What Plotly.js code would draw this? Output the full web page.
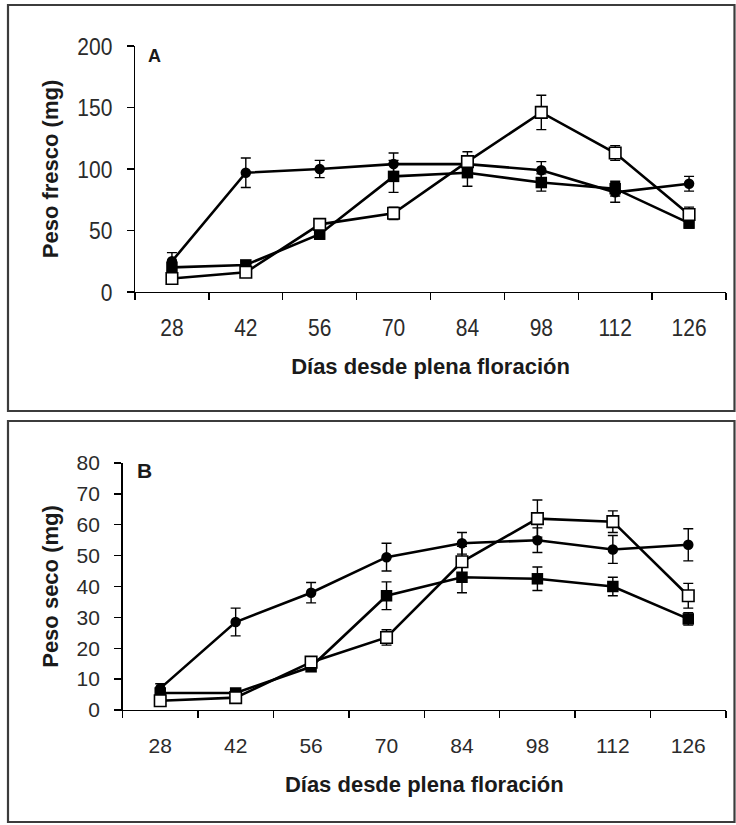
<!DOCTYPE html>
<html>
<head>
<meta charset="utf-8">
<script src="https://cdn.plot.ly/plotly-3.0.1.min.js"></script>
<style>
  html, body { margin: 0; padding: 0; background: #fff; }
  #chart { width: 736px; height: 825px; }
</style>
</head>
<body>
<div id="chart"></div>
<script>
// Days after full bloom (category axis)
const days = ['28', '42', '56', '70', '84', '98', '112', '126'];

// Panel A: fresh weight (mg), three series with standard errors
const freshCircle    = [25, 97, 100, 104, 104, 99, 81, 88];
const freshCircleErr = [7, 12, 7, 9, 5, 7, 8, 6];
const freshFilled    = [20, 22, 47, 94, 97, 89, 84, 56];
const freshFilledErr = [3, 3, 4, 13, 11, 7, 6, 4];
const freshOpen      = [11, 16, 55, 64, 106, 146, 113, 63];
const freshOpenErr   = [2, 2, 4, 5, 8, 14, 6, 6];

// Panel B: dry weight (mg)
const dryCircle    = [7, 28.5, 38, 49.5, 54, 55, 52, 53.5];
const dryCircleErr = [1.5, 4.5, 3.3, 4.5, 3.5, 4, 4.5, 5.2];
const dryFilled    = [5.5, 5.5, 14, 37, 43, 42.5, 40, 29.5];
const dryFilledErr = [1, 1, 1.5, 4.5, 5, 3.8, 3, 2];
const dryOpen      = [3, 4, 15.5, 23.5, 48, 62, 61, 37];
const dryOpenErr   = [0.7, 0.8, 1.5, 2.5, 5, 6, 3.5, 4];

const yTicksA = [0, 50, 100, 150, 200];
const yTicksB = [0, 10, 20, 30, 40, 50, 60, 70, 80];

const W = 736, H = 825;
const FONT = 'Liberation Sans, Arial, Helvetica, sans-serif';
const INK = '#000';

const px = v => v / W;
const py = v => 1 - v / H;

const markerStyles = {
  circle: { symbol: 'circle', size: 10.5, color: INK },
  filled: { symbol: 'square', size: 11.5, color: INK },
  open:   { symbol: 'square', size: 11.5, color: '#fff', line: { color: INK, width: 1.6 } }
};

function series(y, err, style, xa, ya) {
  return {
    type: 'scatter',
    mode: 'lines+markers',
    x: days,
    y: y,
    xaxis: xa,
    yaxis: ya,
    line: { color: INK, width: 2.6 },
    marker: markerStyles[style],
    error_y: { type: 'data', array: err, visible: true, color: INK, thickness: 1.4, width: 5 },
    hoverinfo: 'skip',
    showlegend: false
  };
}

const traces = [
  series(freshCircle, freshCircleErr, 'circle', 'x', 'y'),
  series(freshFilled, freshFilledErr, 'filled', 'x', 'y'),
  series(freshOpen, freshOpenErr, 'open', 'x', 'y'),
  series(dryCircle, dryCircleErr, 'circle', 'x2', 'y2'),
  series(dryFilled, dryFilledErr, 'filled', 'x2', 'y2'),
  series(dryOpen, dryOpenErr, 'open', 'x2', 'y2')
];

const tickFont = { family: FONT, size: 21, color: '#2b2b2b' };
const titleFont = { family: FONT, size: 22, color: '#1a1a1a', weight: 'bold' };

function xAxis(domain, anchor) {
  return {
    type: 'category',
    anchor: anchor,
    domain: domain,
    range: [-0.5, days.length - 0.5],
    tickson: 'boundaries',
    ticks: 'outside',
    ticklen: 7,
    tickwidth: 1.4,
    tickcolor: INK,
    showline: true,
    linecolor: INK,
    linewidth: 1.4,
    showgrid: false,
    zeroline: false,
    ticklabelstandoff: 16,
    tickfont: tickFont,
    title: { text: 'Días desde plena floración', font: titleFont, standoff: 21 },
    fixedrange: true
  };
}

function yAxis(domain, anchor, range, vals, titleText, standoff) {
  return {
    anchor: anchor,
    domain: domain,
    range: range,
    tickmode: 'array',
    tickvals: vals,
    ticktext: vals.map(String),
    ticks: 'outside',
    ticklen: 7,
    tickwidth: 1.4,
    tickcolor: INK,
    showline: true,
    linecolor: INK,
    linewidth: 1.4,
    showgrid: false,
    zeroline: false,
    ticklabelstandoff: 10,
    tickfont: tickFont,
    title: { text: titleText, font: titleFont, standoff: standoff },
    fixedrange: true
  };
}

const layout = {
  width: W,
  height: H,
  margin: { l: 0, r: 0, t: 0, b: 0, pad: 0 },
  paper_bgcolor: '#fff',
  plot_bgcolor: '#fff',
  font: { family: FONT, color: INK },
  xaxis:  xAxis([px(135), px(726)], 'y'),
  yaxis:  yAxis([py(292), py(46)], 'x', [0, 200], yTicksA, 'Peso fresco (mg)', 12),
  xaxis2: xAxis([px(122.5), px(726)], 'y2'),
  yaxis2: yAxis([py(710), py(463)], 'x2', [0, 80], yTicksB, 'Peso seco (mg)', 12),
  shapes: [
    { type: 'rect', xref: 'paper', yref: 'paper', x0: px(8), x1: px(734.5), y0: py(411), y1: py(5),
      line: { color: '#3c3c3c', width: 2.2 }, fillcolor: 'rgba(0,0,0,0)' },
    { type: 'rect', xref: 'paper', yref: 'paper', x0: px(8), x1: px(734.5), y0: py(822), y1: py(421),
      line: { color: '#3c3c3c', width: 2.2 }, fillcolor: 'rgba(0,0,0,0)' }
  ],
  annotations: [
    { text: '<b>A</b>', xref: 'paper', yref: 'paper', x: px(146), y: py(56), xanchor: 'left', yanchor: 'middle',
      showarrow: false, font: { family: FONT, size: 18, color: '#1a1a1a' } },
    { text: '<b>B</b>', xref: 'paper', yref: 'paper', x: px(135), y: py(470), xanchor: 'left', yanchor: 'middle',
      showarrow: false, font: { family: FONT, size: 21, color: '#1a1a1a' } }
  ]
};

// Tick numerals use a tall, narrow face: stretch each label vertically about its own centre.
function stretchTickLabels(gd, sy) {
  gd.querySelectorAll('.xtick text, .ytick text').forEach(t => {
    const b = t.getBBox();
    const cx = b.x + b.width / 2;
    const cy = b.y + b.height / 2;
    const base = t.getAttribute('transform') || '';
    t.setAttribute('transform',
      `${base} translate(${cx},${cy}) scale(1,${sy}) translate(${-cx},${-cy})`);
  });
}

Plotly.newPlot('chart', traces, layout, { staticPlot: true, displayModeBar: false })
  .then(gd => stretchTickLabels(gd, 1.18));
</script>
</body>
</html>
